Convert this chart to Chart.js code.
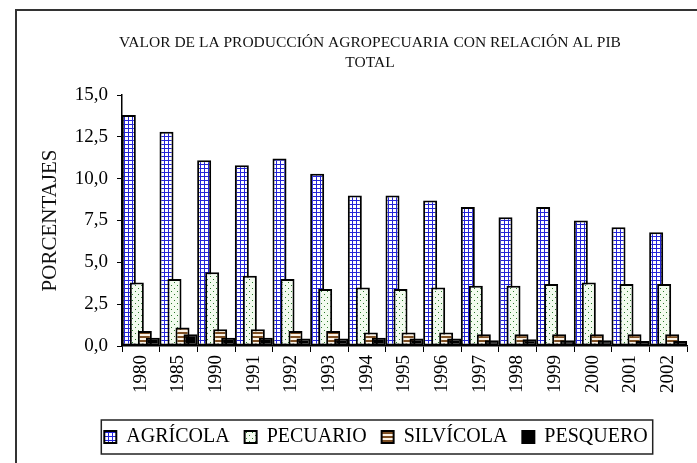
<!DOCTYPE html>
<html>
<head>
<meta charset="utf-8">
<script src="https://cdn.jsdelivr.net/npm/chart.js@4"></script>
<style>
  html, body { margin: 0; padding: 0; background: #fff; overflow: hidden; }
  #wrap { position: relative; width: 697px; height: 463px; overflow: hidden; }
  #frame { position: absolute; left: 15px; top: 9px; width: 800px; height: 600px; border: 2px solid #333; box-sizing: border-box; }
  canvas { position: absolute; left: 0; top: 0; }
</style>
</head>
<body>
<div id="wrap">
  <div id="frame"></div>
  <canvas id="chart" width="697" height="463"></canvas>
</div>
<script>
// datos (% del PIB total)
const years = ['1980', '1985', '1990', '1991', '1992', '1993', '1994', '1995',
               '1996', '1997', '1998', '1999', '2000', '2001', '2002'];
const agricola  = [13.8, 12.8, 11.1, 10.8, 11.2, 10.3, 9.0, 9.0, 8.7, 8.3, 7.7, 8.3, 7.5, 7.1, 6.8];
const pecuario  = [3.8, 4.0, 4.4, 4.2, 4.0, 3.4, 3.5, 3.4, 3.5, 3.6, 3.6, 3.7, 3.8, 3.7, 3.7];
const silvicola = [0.9, 1.1, 1.0, 1.0, 0.9, 0.9, 0.8, 0.8, 0.8, 0.7, 0.7, 0.7, 0.7, 0.7, 0.7];
const pesquero  = [0.5, 0.7, 0.5, 0.5, 0.45, 0.45, 0.5, 0.45, 0.45, 0.35, 0.4, 0.35, 0.35, 0.3, 0.3];
const seriesNames = ['AGRÍCOLA', 'PECUARIO', 'SILVÍCOLA', 'PESQUERO'];
const yTicks = [0, 2.5, 5, 7.5, 10, 12.5, 15];
const titleLines = ['VALOR DE LA PRODUCCIÓN AGROPECUARIA CON RELACIÓN AL PIB', 'TOTAL'];
const yTitle = 'PORCENTAJES';

const SERIF = '"Liberation Serif", "Times New Roman", serif';

// --- tramas de relleno ---
function makePattern(w, h, bg, paint) {
    const c = document.createElement('canvas');
    c.width = w; c.height = h;
    const g = c.getContext('2d');
    g.fillStyle = bg;
    g.fillRect(0, 0, w, h);
    paint(g);
    return g.createPattern(c, 'repeat');
}

const gridBlue = makePattern(4, 4, '#ffffff', g => {
    g.fillStyle = '#2424d8';
    g.fillRect(0, 0, 4, 1);
    g.fillRect(0, 0, 1, 4);
});
const dotsGreen = makePattern(6, 6, '#f3fbef', g => {
    g.fillStyle = '#2a7a2a';
    g.fillRect(0, 0, 1, 1);
    g.fillRect(3, 3, 1, 1);
});
const stripesBrown = makePattern(4, 4, '#fbf3e6', g => {
    g.fillStyle = '#7d4e22';
    g.fillRect(0, 0, 4, 2);
});

// --- plugins ---
const titlePlugin = {
    id: 'titleLines',
    afterDraw(chart) {
        const ctx = chart.ctx;
        ctx.save();
        ctx.font = '15.5px ' + SERIF;
        ctx.fillStyle = '#111';
        ctx.textAlign = 'center';
        ctx.textBaseline = 'middle';
        titleLines.forEach((t, i) => ctx.fillText(t, 370, 43 + i * 19.5));
        ctx.restore();
    }
};

// dibuja las series en orden, la última queda delante
const drawOrder = {
    id: 'drawOrder',
    beforeDatasetsDraw(chart) {
        chart.data.datasets.forEach((ds, i) => {
            const meta = chart.getDatasetMeta(i);
            if (!meta.hidden) meta.controller.draw();
        });
        return false;
    }
};

const plotFrame = {
    id: 'plotFrame',
    beforeDatasetsDraw(chart) {
        const {ctx, chartArea: a} = chart;
        ctx.save();
        ctx.strokeStyle = '#8a8a8a';
        ctx.lineWidth = 2;
        ctx.beginPath();
        ctx.moveTo(a.left, a.top);
        ctx.lineTo(a.right, a.top);
        ctx.lineTo(a.right, a.bottom);
        ctx.stroke();
        ctx.restore();
    }
};

const legendBox = {
    id: 'legendBox',
    afterLayout(chart) {
        // centrar la leyenda como en el original
        const lg = chart.legend;
        const d = 376 - (lg.left + lg.right) / 2;
        lg.left += d;
        lg.right += d;
    },
    afterDraw(chart) {
        const boxes = chart.legend.legendHitBoxes;
        if (!boxes.length) return;
        const left = Math.min(...boxes.map(b => b.left));
        const right = Math.max(...boxes.map(b => b.left + b.width));
        const top = boxes[0].top;
        const h = boxes[0].height;
        const ctx = chart.ctx;
        ctx.save();
        ctx.strokeStyle = '#222';
        ctx.lineWidth = 1.5;
        ctx.strokeRect(left - 3, top - 7, right - left + 8, h + 14);
        ctx.restore();
    }
};

function barSet(label, data, fill) {
    return {
        label: label,
        data: data,
        backgroundColor: fill,
        borderColor: '#000',
        borderWidth: 2,
        borderSkipped: false
    };
}

const ctx = document.getElementById('chart').getContext('2d');
new Chart(ctx, {
    type: 'bar',
    data: {
        labels: years,
        datasets: [
            barSet(seriesNames[0], agricola, gridBlue),
            barSet(seriesNames[1], pecuario, dotsGreen),
            barSet(seriesNames[2], silvicola, stripesBrown),
            barSet(seriesNames[3], pesquero, '#000')
        ]
    },
    options: {
        responsive: false,
        animation: false,
        categoryPercentage: 0.85,
        barPercentage: 1.75,
        layout: { padding: { top: 95, left: 20, right: 10, bottom: 6 } },
        scales: {
            x: {
                grid: { drawOnChartArea: false, tickLength: 6, color: '#000', offset: true },
                border: { color: '#000', width: 1.5 },
                ticks: {
                    minRotation: 90, maxRotation: 90, padding: 3, color: '#000',
                    font: { family: SERIF, size: 19 }
                },
                afterFit(scale) { scale.height = 66; }
            },
            y: {
                min: 0, max: 15,
                afterBuildTicks(scale) { scale.ticks = yTicks.map(v => ({ value: v })); },
                grid: { drawOnChartArea: false, tickLength: 5, color: '#000' },
                border: { color: '#000', width: 1.5 },
                ticks: {
                    padding: 9, color: '#000',
                    font: { family: SERIF, size: 19 },
                    callback: v => v.toFixed(1).replace('.', ',')
                },
                title: {
                    display: true, text: yTitle, color: '#111',
                    font: { family: SERIF, size: 21 },
                    padding: { top: 18, bottom: 0 }
                },
                afterFit(scale) { scale.width = 102; }
            }
        },
        plugins: {
            legend: {
                position: 'bottom',
                labels: {
                    boxWidth: 12, boxHeight: 12, padding: 15, color: '#000',
                    font: { family: SERIF, size: 20 }
                }
            },
            tooltip: { enabled: false }
        }
    },
    plugins: [titlePlugin, drawOrder, plotFrame, legendBox]
});
</script>
</body>
</html>
